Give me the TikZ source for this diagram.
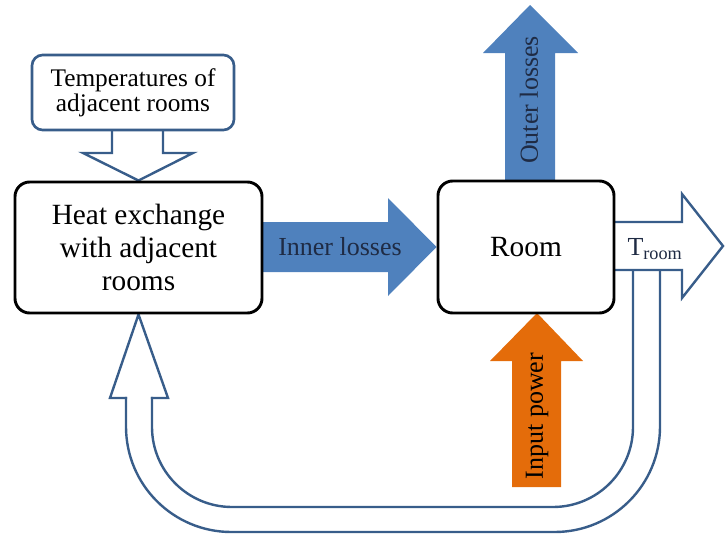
\documentclass[tikz,border=0pt]{standalone}
\usepackage{fontspec}
\setmainfont{Liberation Serif}
\usepackage{xcolor}
\usepackage{tikz}
\usetikzlibrary{positioning}
\usetikzlibrary{backgrounds}

\definecolor{lossblue}{HTML}{4F81BD}
\definecolor{edgeblue}{HTML}{385D8A}
\definecolor{powerorange}{HTML}{E46C0A}
\definecolor{labelnavy}{HTML}{1F2B44}

\begin{document}
\begin{tikzpicture}[x=0.75pt,y=-0.75pt,
    block/.style={draw, line width=2.2pt, rectangle, rounded corners=11pt, fill=white,
                  align=center, font=\fontsize{22}{24.75}\selectfont},
    inputbox/.style={draw=edgeblue, line width=2pt, rectangle, rounded corners=8pt, fill=white,
                  align=center, font=\fontsize{19}{18.75}\selectfont},
    hollow/.style={draw=edgeblue, line width=1.8pt, fill=white, line join=miter},
    loopline/.style={draw=edgeblue, line width=1.8pt, line cap=rect},
    arrowtext/.style={font=\fontsize{19.5}{20}\selectfont, text=labelnavy, inner sep=0pt}]
    \useasboundingbox (0,0) rectangle (725,539);

    % Blocs
    \node (temp) [inputbox, minimum width=151.5pt, minimum height=56.25pt] at (133,92.5)
                 {Temperatures of\\adjacent rooms};
    \node (heat) [block, minimum width=185.25pt, minimum height=98.25pt] at (138.5,247.5)
                 {Heat exchange\\with adjacent\\rooms};
    \node (room) [block, minimum width=132pt, minimum height=99pt] at (526,247) {Room};

    % Flèches (sous les blocs)
    \begin{scope}[on background layer]
      \fill[lossblue] (262,222) -- (388,222) -- (388,198) -- (room.west)
                      -- (388,296) -- (388,272) -- (262,272) -- cycle;
      \fill[lossblue] (505,181) -- (505,53) -- (483,53) -- (530,5)
                      -- (578,53) -- (555,53) -- (555,181) -- cycle;
      \fill[powerorange] (512,487) -- (512,361) -- (490,361) -- (537,313)
                      -- (583,361) -- (561,361) -- (561,487) -- cycle;

      \draw[hollow] (112,130) -- (112,153) -- (83,153) -- (heat.north)
                    -- (193,153) -- (163,153) -- (163,130);

      % Boucle de retour
      \draw[loopline, rounded corners=79pt] (660,270) -- (660,532) -- (126,532) -- (126,398);
      \draw[loopline, rounded corners=60pt] (633,270) -- (633,507) -- (152,507) -- (152,398);
      \draw[loopline, line join=miter] (126,398) -- (110,398) -- (heat.south)
                    -- (168,398) -- (152,398);

      \draw[hollow] (614,222) -- (682,222) -- (682,194) -- (723,246)
                    -- (682,298) -- (682,270) -- (614,270);
    \end{scope}

    % Textes des flèches
    \node (innerlbl) [arrowtext] at (340,247) {Inner losses};
    \node (outerlbl) [arrowtext, rotate=90] at (529,100) {Outer losses};
    \node (powerlbl) [arrowtext, rotate=90, text=black] at (537,416) {Input power};
    \node (troomlbl) [arrowtext] at (655,249) {T\textsubscript{room}};
  \end{tikzpicture}
\end{document}
